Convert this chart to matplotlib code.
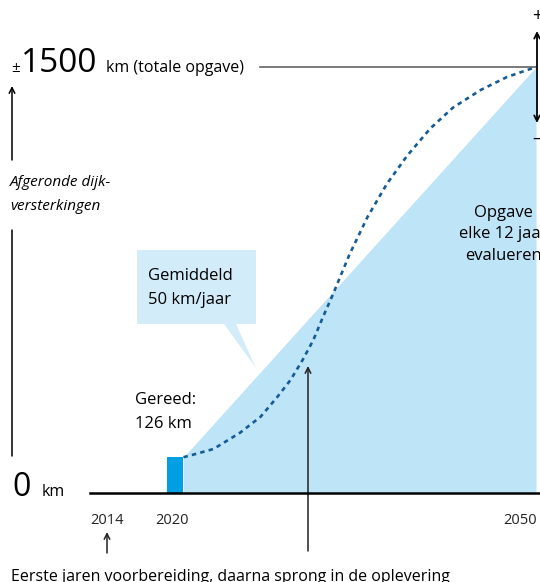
# Dijkversterkingen: opgave tot 2050 met verwachte S-curve van de oplevering
import matplotlib.pyplot as plt
from matplotlib.patches import Polygon

plt.rcParams['font.family'] = ['Open Sans', 'DejaVu Sans']

# gegevens
start_jaar = 2020
eind_jaar = 2050
gereed_km = 126
totaal_km = 1500
balk_jaren = [2019.3, 2020.7]

# verwachte oplevering (gestippelde lijn)
curve_jaren = [2020.7, 2021.6, 2023.2, 2025.4, 2027.1, 2028.5, 2029.6, 2030.6, 2031.5,
               2032.3, 2033.1, 2034.5, 2036.0, 2037.6, 2039.3, 2041.2, 2043.1, 2045.4,
               2047.6, 2050.0]
curve_km = [126, 136, 155, 212, 268, 338, 398, 468, 539,
            620, 697, 840, 972, 1088, 1188, 1283, 1357, 1419,
            1465, 1500]

tick_labels = ['2014', '2020', '2050']
tick_px = [107, 172, 520]

W, H = 540, 582
BLAUW_LICHT = '#bee4f8'
BLAUW_BALK = '#009fe3'
BLAUW_DONKER = '#155c96'


def px(x, y):
    # pixelpositie (van linksboven) naar figuurfractie
    return x / W, 1 - y / H


fig = plt.figure(figsize=(W / 100, H / 100), dpi=100)
ax = fig.add_axes([0, 0, 1, 1])
ax.axis('off')

# schaal: 2020 -> x=175 px, 2050 -> x=536 px; 0 km -> y=493 px, 1500 km -> y=67 px
px_per_jaar = (536 - 175) / 30
px_per_km = (493 - 67) / 1500
ax.set_xlim(start_jaar - 175 / px_per_jaar, start_jaar + (W - 175) / px_per_jaar)
ax.set_ylim(-(H - 493) / px_per_km, 493 / px_per_km)

# lichtblauw vlak (gemiddeld tempo)
ax.fill_between([balk_jaren[1], eind_jaar], [0, 0], [gereed_km, totaal_km],
                color=BLAUW_LICHT, lw=0, zorder=1)

# balk gereed
ax.bar((balk_jaren[0] + balk_jaren[1]) / 2, gereed_km, width=balk_jaren[1] - balk_jaren[0],
       color=BLAUW_BALK, zorder=3)

# gestippelde verwachte lijn
ax.plot(curve_jaren, curve_km, color=BLAUW_DONKER, lw=1.9, ls=(0, (1.7, 1.6)), zorder=4)

# x-as
ax.plot([start_jaar - 85 / px_per_jaar, eind_jaar + 1], [0, 0], color='black', lw=1.8, zorder=5)

# grijze lijn totale opgave
ax.plot([start_jaar - (175 - 260) / px_per_jaar, eind_jaar], [totaal_km, totaal_km],
        color='#555555', lw=1.1, zorder=2)

# jaartallen
for lab, x in zip(tick_labels, tick_px):
    fig.text(*px(x, 520), lab, fontsize=10.5, ha='center', va='center', color='#222222')

# y-as labels
fig.text(*px(12, 496), '0', fontsize=23, ha='left', va='baseline')
fig.text(*px(42, 496), 'km', fontsize=11.5, ha='left', va='baseline')
fig.text(*px(11, 72), '±', fontsize=11, ha='left', va='baseline')
fig.text(*px(21, 72), str(totaal_km), fontsize=24, ha='left', va='baseline')
fig.text(*px(106, 72), 'km (totale opgave)', fontsize=11.5, ha='left', va='baseline')

# verticale pijl links met titel
fig.text(*px(10, 183), 'Afgeronde dijk-', fontsize=11, style='italic', ha='left', va='center')
fig.text(*px(10, 206), 'versterkingen', fontsize=11, style='italic', ha='left', va='center')
ax.annotate('', xy=px(12, 86), xytext=px(12, 160), xycoords='figure fraction',
            textcoords='figure fraction',
            arrowprops=dict(arrowstyle='->', color='black', lw=1.1, shrinkA=0, shrinkB=0))
ax.annotate('', xy=px(12, 230), xytext=px(12, 456), xycoords='figure fraction',
            textcoords='figure fraction',
            arrowprops=dict(arrowstyle='-', color='black', lw=1.1, shrinkA=0, shrinkB=0))

# tekstballon
ballon = Polygon([px(137, 250), px(256, 250), px(256, 324), px(236, 324), px(256, 368),
                  px(224, 324), px(137, 324)], closed=True, transform=fig.transFigure,
                 facecolor='#d3ecfa', edgecolor='none', zorder=6)
fig.patches.append(ballon)
fig.text(*px(148, 276), 'Gemiddeld', fontsize=12, ha='left', va='center', zorder=7)
fig.text(*px(148, 300), '50 km/jaar', fontsize=12, ha='left', va='center', zorder=7)

# gereed
fig.text(*px(135, 400), 'Gereed:', fontsize=12, ha='left', va='center')
fig.text(*px(135, 424), f'{gereed_km} km', fontsize=12, ha='left', va='center')

# opgave evalueren
fig.text(*px(503, 213), 'Opgave', fontsize=12, ha='center', va='center')
fig.text(*px(503, 234), 'elke 12 jaar', fontsize=12, ha='center', va='center')
fig.text(*px(503, 256), 'evalueren', fontsize=12, ha='center', va='center')

# plus/min pijl rechts
ax.annotate('', xy=px(537, 31), xytext=px(537, 123), xycoords='figure fraction',
            textcoords='figure fraction',
            arrowprops=dict(arrowstyle='<->', color='black', lw=1.3, shrinkA=0, shrinkB=0))
fig.text(*px(537, 16), '+', fontsize=13, ha='center', va='center')
fig.text(*px(537, 139), '–', fontsize=13, ha='center', va='center')

# pijl naar de curve en pijl onder 2014
ax.annotate('', xy=px(308, 366), xytext=px(308, 551), xycoords='figure fraction',
            textcoords='figure fraction',
            arrowprops=dict(arrowstyle='->', color='#222222', lw=1.1, shrinkA=0, shrinkB=0))
ax.annotate('', xy=px(107, 532), xytext=px(107, 553), xycoords='figure fraction',
            textcoords='figure fraction',
            arrowprops=dict(arrowstyle='->', color='#222222', lw=1.1, shrinkA=0, shrinkB=0))

fig.text(*px(11, 581), 'Eerste jaren voorbereiding, daarna sprong in de oplevering',
         fontsize=11.5, ha='left', va='baseline')

fig.savefig('out.png', dpi=100)
